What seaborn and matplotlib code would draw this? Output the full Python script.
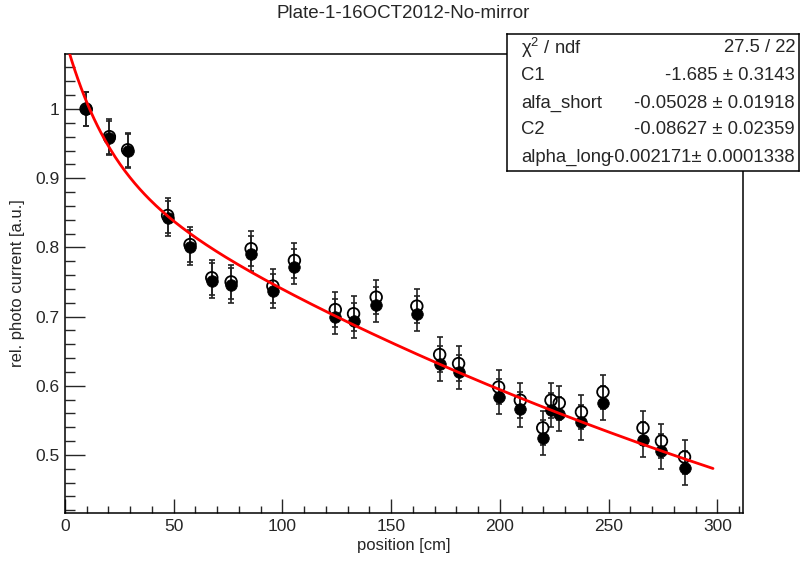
import numpy as np
import pandas as pd
import matplotlib
matplotlib.use("Agg")
import matplotlib.pyplot as plt
from matplotlib.ticker import MultipleLocator, FuncFormatter
import seaborn as sns

# ---- data ----
position = [9.7, 20.4, 28.8, 47.2, 57.5, 67.5, 76.4, 85.6, 95.6, 105.5, 124.3, 132.7, 143.1,
            161.8, 172.3, 181.0, 199.4, 209.4, 219.7, 223.5, 227.3, 237.5, 247.4, 265.8, 274.3, 284.9]
current_filled = [1.000, 0.958, 0.939, 0.842, 0.800, 0.752, 0.745, 0.791, 0.737, 0.772, 0.700, 0.694, 0.717,
                  0.704, 0.632, 0.620, 0.584, 0.566, 0.525, 0.565, 0.559, 0.547, 0.575, 0.522, 0.505, 0.481]
current_open = [1.000, 0.960, 0.941, 0.846, 0.804, 0.756, 0.750, 0.798, 0.744, 0.781, 0.710, 0.704, 0.728,
                0.715, 0.645, 0.632, 0.598, 0.579, 0.539, 0.579, 0.575, 0.562, 0.591, 0.539, 0.520, 0.497]
current_err = [0.025] * len(position)

# fit parameters (from the stats box)
C1, alfa_short, C2, alpha_long = -1.685, -0.05028, -0.08627, -0.002171
fit_range = (0.0, 298.0)

stats_labels = ["\u03c7$^{2}$ / ndf", "C1", "alfa_short", "C2", "alpha_long"]
stats_values = ["27.5 / 22", "-1.685 \u00b1 0.3143", "-0.05028 \u00b1 0.01918",
                "-0.08627 \u00b1 0.02359", "-0.002171\u00b1 0.0001338"]

title = "Plate-1-16OCT2012-No-mirror"

df = pd.DataFrame({"position": position, "filled": current_filled, "open": current_open, "err": current_err})
xf = np.linspace(fit_range[0], fit_range[1], 400)
fit_df = pd.DataFrame({"position": xf,
                       "fit": np.exp(C1 + alfa_short * xf) + np.exp(C2 + alpha_long * xf)})

sns.set_theme(style="ticks")
plt.rcParams['font.family'] = ['Liberation Sans', 'DejaVu Sans']
plt.rcParams['mathtext.fontset'] = 'custom'
plt.rcParams['mathtext.rm'] = 'Liberation Sans'
plt.rcParams['mathtext.it'] = 'Liberation Sans'

W, H = 806, 561
fig = plt.figure(figsize=(W / 100, H / 100), dpi=100)
fig.patch.set_facecolor("white")
L, R, T, B = 65, 743, 54, 513
ax = fig.add_axes([L / W, 1 - B / H, (R - L) / W, (B - T) / H])
ax.set_facecolor("white")

ax.set_xlim(0, 311.8)
ax.set_ylim(0.416, 1.0795)

# error bars
ax.errorbar(df["position"], df["open"], yerr=df["err"], fmt="none", ecolor="#222222",
            elinewidth=1.2, capsize=2.5, capthick=1.2, zorder=2)
ax.errorbar(df["position"], df["filled"], yerr=df["err"], fmt="none", ecolor="#222222",
            elinewidth=1.2, capsize=2.5, capthick=1.2, zorder=2)

sns.scatterplot(data=df, x="position", y="open", ax=ax, marker="o", s=70,
                facecolor="none", edgecolor="black", linewidth=1.3, zorder=3)
sns.scatterplot(data=df, x="position", y="filled", ax=ax, marker="o", s=70,
                color="black", edgecolor="black", linewidth=0.5, zorder=4)
sns.lineplot(data=fit_df, x="position", y="fit", ax=ax, color="#ff0000", lw=2.0, zorder=5)

ax.xaxis.set_major_locator(MultipleLocator(50))
ax.xaxis.set_minor_locator(MultipleLocator(10))
ax.yaxis.set_major_locator(MultipleLocator(0.1))
ax.yaxis.set_minor_locator(MultipleLocator(0.02))
ax.yaxis.set_major_formatter(FuncFormatter(lambda v, p: f"{v:g}"))
ax.tick_params(axis="x", which="major", direction="in", length=10, width=1, labelsize=12.5, pad=4)
ax.tick_params(axis="x", which="minor", direction="in", length=5, width=1)
ax.tick_params(axis="y", which="major", direction="in", length=14.5, width=1, labelsize=12.5, pad=4)
ax.tick_params(axis="y", which="minor", direction="in", length=7, width=1)
for s in ax.spines.values():
    s.set_linewidth(1.1)
    s.set_color("black")

ax.set_xlabel("position [cm]", fontsize=12)
ax.set_ylabel("rel. photo current [a.u.]", fontsize=12)
ax.xaxis.set_label_coords(0.5, -0.054)
ax.yaxis.set_label_coords(-0.059, 0.5)

fig.text(403 / W, 1 - 13 / H, title, ha="center", va="center", fontsize=13.5)

# stats box
bx0, bx1, by0, by1 = 507, 799, 34, 171
sax = fig.add_axes([bx0 / W, 1 - by1 / H, (bx1 - bx0) / W, (by1 - by0) / H])
sax.set_xlim(bx0, bx1)
sax.set_ylim(by1, by0)
sax.set_xticks([])
sax.set_yticks([])
sax.set_facecolor("white")
for s in sax.spines.values():
    s.set_linewidth(1.1)
    s.set_color("black")
rows_y = [48, 75, 103, 130, 157]
for lab, val, yy in zip(stats_labels, stats_values, rows_y):
    sax.text(521, yy, lab, ha="left", va="center", fontsize=13.3)
    sax.text(795, yy, val, ha="right", va="center", fontsize=13.3)

fig.savefig("out.png", dpi=100, facecolor="white")
